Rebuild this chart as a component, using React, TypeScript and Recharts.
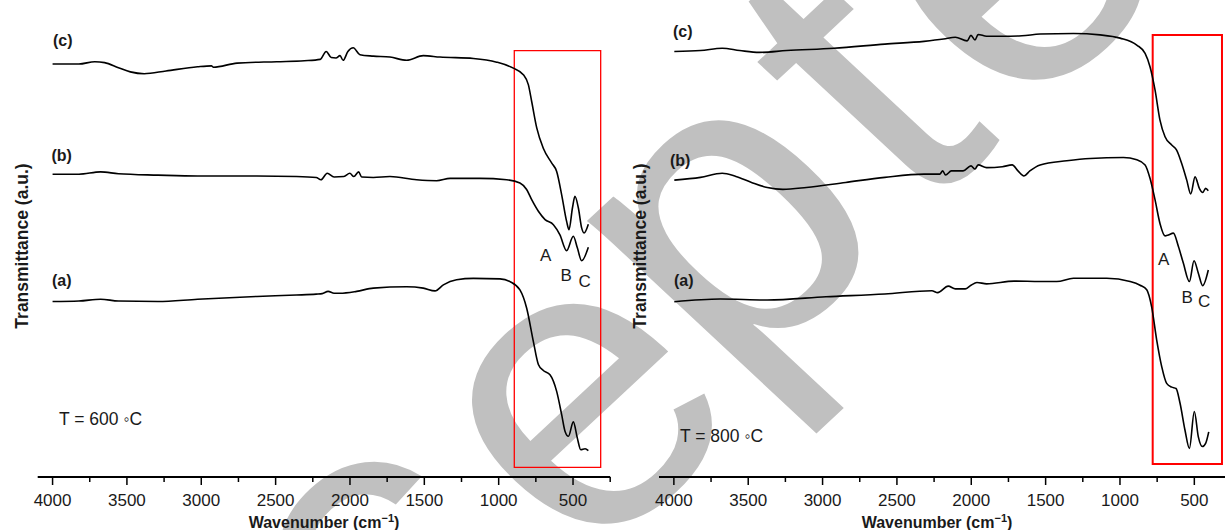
import React from "react";
import { LineChart, Line, XAxis, YAxis, ReferenceArea } from "recharts";

type Pt = [number, number];

// wavenumber ticks (cm-1); every 250 a tick, every 500 a label
const tickValues = [4000, 3750, 3500, 3250, 3000, 2750, 2500, 2250, 2000, 1750, 1500, 1250, 1000, 750, 500, 250];
const labelledTicks = [4000, 3500, 3000, 2500, 2000, 1500, 1000, 500];

// T = 600 °C spectra: [wavenumber, transmittance a.u.]
const c600: Pt[] = [
  [4000, 89.2], [3823, 89.2], [3716, 89.7], [3650, 89.5], [3557, 88.4], [3477, 87.5], [3384, 87.1],
  [3237, 87.7], [3025, 88.6], [2932, 88.8], [2918, 88.5], [2759, 89.4], [2493, 89.7], [2307, 89.9],
  [2200, 90.2], [2160, 91.9], [2126, 90.6], [2094, 90.5], [2067, 91.0], [2046, 90.0], [2014, 91.9],
  [1978, 92.7], [1933, 91.2], [1843, 90.9], [1731, 90.7], [1619, 90.0], [1507, 91.0], [1395, 90.7],
  [1170, 90.4], [1013, 89.6], [901, 88.3], [834, 86.9], [800, 84.7], [778, 81.1], [744, 75.4],
  [700, 71.0], [643, 67.8], [610, 66.0], [576, 60.9], [543, 55.2], [527, 53.4], [504, 58.1],
  [487, 60.6], [464, 58.1], [442, 53.8], [426, 52.7], [397, 54.6],
];
const b600: Pt[] = [
  [4000, 65.4], [3823, 65.4], [3677, 65.9], [3557, 65.5], [3291, 65.2], [3025, 65.0], [2626, 65.0],
  [2360, 64.9], [2227, 64.7], [2195, 64.2], [2153, 65.6], [2107, 64.8], [2041, 64.9], [2001, 65.6],
  [1974, 64.9], [1942, 65.9], [1921, 64.8], [1843, 64.7], [1731, 64.9], [1552, 64.2], [1417, 64.0],
  [1327, 64.5], [1126, 64.5], [946, 64.2], [857, 63.5], [812, 62.1], [778, 59.9], [733, 57.4],
  [688, 55.6], [632, 54.5], [588, 52.3], [543, 48.9], [498, 52.0], [471, 49.5], [442, 46.7], [397, 49.6],
];
const a600: Pt[] = [
  [4000, 37.9], [3823, 38.0], [3677, 38.4], [3557, 38.0], [3291, 37.9], [3025, 38.4], [2626, 39.0],
  [2360, 39.3], [2227, 39.5], [2187, 39.6], [2147, 40.1], [2107, 39.7], [2067, 39.7], [1955, 40.1],
  [1843, 40.8], [1619, 41.1], [1507, 40.8], [1428, 40.2], [1372, 41.5], [1283, 42.6], [1170, 42.9],
  [991, 42.8], [924, 42.2], [857, 40.4], [812, 36.5], [767, 29.3], [733, 24.3], [700, 23.0],
  [655, 22.1], [610, 18.5], [576, 13.4], [554, 9.9], [531, 8.8], [498, 11.9], [471, 8.4],
  [448, 5.9], [419, 6.1], [397, 5.7],
];

// T = 800 °C spectra
const c800: Pt[] = [
  [3997, 92.3], [3821, 92.5], [3675, 93.0], [3557, 92.5], [3425, 92.1], [3241, 92.5], [2924, 93.0],
  [2581, 93.9], [2318, 94.5], [2186, 95.0], [2107, 95.4], [2028, 94.6], [2002, 95.8], [1975, 94.8],
  [1954, 96.0], [1897, 95.6], [1791, 95.6], [1659, 95.7], [1537, 96.1], [1313, 96.2], [1134, 95.9],
  [999, 95.2], [887, 93.7], [831, 91.9], [798, 89.0], [764, 83.9], [731, 77.4], [697, 73.8],
  [652, 72.0], [619, 70.9], [585, 68.0], [551, 64.4], [524, 61.4], [495, 65.1], [466, 62.6],
  [444, 61.7], [424, 62.6], [406, 62.1],
];
const b800: Pt[] = [
  [3997, 64.4], [3821, 65.0], [3675, 65.9], [3583, 65.2], [3478, 63.9], [3372, 62.8], [3267, 62.4],
  [3109, 62.8], [2845, 63.9], [2581, 65.0], [2318, 65.7], [2212, 65.7], [2192, 66.4], [2173, 65.5],
  [2134, 66.4], [2055, 66.4], [2002, 67.5], [1975, 66.8], [1954, 67.7], [1897, 67.1], [1791, 67.3],
  [1725, 67.7], [1686, 66.4], [1646, 65.3], [1606, 66.4], [1537, 67.7], [1358, 68.6], [1201, 69.1],
  [977, 69.3], [887, 68.8], [831, 67.7], [798, 64.8], [764, 60.1], [731, 55.0], [697, 52.3],
  [675, 52.5], [641, 52.9], [607, 50.0], [574, 46.4], [533, 42.4], [502, 46.9], [473, 44.2],
  [444, 41.5], [406, 44.9],
];
const a800: Pt[] = [
  [3997, 38.0], [3689, 38.6], [3372, 38.4], [2977, 39.1], [2581, 39.7], [2265, 40.4], [2226, 40.0],
  [2155, 41.4], [2107, 40.8], [2041, 40.8], [2002, 41.6], [1962, 42.2], [1897, 41.9], [1712, 42.5],
  [1537, 42.4], [1425, 42.4], [1313, 43.1], [1089, 43.1], [932, 42.4], [865, 41.6], [820, 40.6],
  [787, 36.9], [753, 29.7], [719, 23.9], [686, 20.3], [652, 19.5], [623, 19.2], [596, 16.0],
  [563, 10.2], [533, 6.2], [500, 14.2], [473, 8.7], [446, 6.6], [424, 7.3], [403, 9.8],
];

// highlighted band: [from, to, bottom, top]
const box600 = [895, 314, 2.1, 92.1];
const box800 = [780, 314, 2.8, 95.9];

const FONT = "'Liberation Sans', Arial, Helvetica, sans-serif";

const toRows = (pts: Pt[]) => pts.map(([wn, t]) => ({ wn, t }));

function WaveTick(props: any) {
  const { x, y, payload } = props;
  const major = labelledTicks.includes(payload.value);
  return (
    <g>
      <line x1={x} x2={x} y1={y} y2={y + (major ? 8 : 5)} stroke="#000" strokeWidth={1.5} />
      {major && (
        <text x={x} y={y + 29} textAnchor="middle" fontSize={17} fontFamily={FONT} fill="#1a1a1a">
          {payload.value}
        </text>
      )}
    </g>
  );
}

function Panel({ left, width, margin, series, box, boxWidth }: any) {
  return (
    <div style={{ position: "absolute", left, top: 0 }}>
      <LineChart width={width} height={530} margin={margin}>
        <XAxis
          type="number"
          dataKey="wn"
          domain={[250, 4100]}
          reversed
          allowDataOverflow
          ticks={tickValues}
          interval={0}
          height={53}
          tickSize={0}
          tickMargin={0}
          tickLine={false}
          tick={(p: any) => <WaveTick {...p} />}
          axisLine={{ stroke: "#000", strokeWidth: 2 }}
        />
        <YAxis
          type="number"
          domain={[0, 100]}
          allowDataOverflow
          width={0}
          tick={false}
          tickLine={false}
          axisLine={{ stroke: "#000", strokeWidth: 1.5 }}
        />
        <ReferenceArea
          x1={box[0]}
          x2={box[1]}
          y1={box[2]}
          y2={box[3]}
          fill="none"
          stroke="#ff0000"
          strokeWidth={boxWidth}
          ifOverflow="visible"
        />
        {series.map((s: Pt[], i: number) => (
          <Line
            key={i}
            data={toRows(s)}
            dataKey="t"
            type="monotone"
            stroke="#000"
            strokeWidth={1.6}
            dot={false}
            isAnimationActive={false}
          />
        ))}
      </LineChart>
    </div>
  );
}

export default function App() {
  const bold = { fontFamily: FONT, fontWeight: 700, fill: "#1a1a1a" } as const;
  const plain = { fontFamily: FONT, fill: "#1a1a1a" } as const;
  return (
    <div style={{ position: "absolute", left: 0, top: 0, width: 1225, height: 530, overflow: "hidden", background: "#fff" }}>
      {/* diagonal "Accepted" stamp behind the plots */}
      <svg width={1225} height={530} style={{ position: "absolute", left: 0, top: 0 }}>
        <text
          transform="translate(688 433) scale(1.072 1) rotate(-45)"
          textAnchor="middle"
          fontSize={410}
          letterSpacing={17}
          fontFamily={FONT}
          fill="#c0c0c0"
        >
          Ac<tspan dx={11} dy={11}>c</tspan>
          <tspan dx={12} dy={19}>e</tspan>
          <tspan dx={-23} dy={-30}>pted</tspan>
        </text>
      </svg>

      <Panel
        left={0}
        width={620}
        margin={{ top: 14, right: 9.8, left: 37.7, bottom: 0 }}
        series={[c600, b600, a600]}
        box={box600}
        boxWidth={1.3}
      />
      <Panel
        left={600}
        width={640}
        margin={{ top: 16, right: 8.5, left: 59, bottom: 0 }}
        series={[c800, b800, a800]}
        box={box800}
        boxWidth={2}
      />

      <svg width={1225} height={530} style={{ position: "absolute", left: 0, top: 0, pointerEvents: "none" }}>
        <text transform="translate(28,246) rotate(-90)" textAnchor="middle" fontSize={17.5} {...bold}>
          Transmittance (a.u.)
        </text>
        <text transform="translate(645.5,246) rotate(-90)" textAnchor="middle" fontSize={17.5} {...bold}>
          Transmittance (a.u.)
        </text>

        <text x={324} y={528} textAnchor="middle" fontSize={16} {...bold}>
          Wavenumber (cm<tspan dy={-6} fontSize={11}>−1</tspan><tspan dy={6}>)</tspan>
        </text>
        <text x={937} y={528} textAnchor="middle" fontSize={16} {...bold}>
          Wavenumber (cm<tspan dy={-6} fontSize={11}>−1</tspan><tspan dy={6}>)</tspan>
        </text>

        <text x={53} y={45.5} fontSize={16} {...bold}>(c)</text>
        <text x={51.5} y={160.5} fontSize={16} {...bold}>(b)</text>
        <text x={52} y={285.5} fontSize={16} {...bold}>(a)</text>
        <text x={673} y={36.5} fontSize={16} {...bold}>(c)</text>
        <text x={670} y={166} fontSize={16} {...bold}>(b)</text>
        <text x={674} y={286} fontSize={16} {...bold}>(a)</text>

        <text x={59} y={425} fontSize={17.5} {...plain}>T = 600 ◦C</text>
        <text x={680} y={442} fontSize={17.5} {...plain}>T = 800 ◦C</text>

        <text x={540} y={261} fontSize={17} {...plain}>A</text>
        <text x={560.5} y={280.5} fontSize={17} {...plain}>B</text>
        <text x={578.5} y={287} fontSize={17} {...plain}>C</text>
        <text x={1158} y={265} fontSize={17} {...plain}>A</text>
        <text x={1181.5} y={303} fontSize={17} {...plain}>B</text>
        <text x={1198} y={307} fontSize={17} {...plain}>C</text>
      </svg>
    </div>
  );
}
